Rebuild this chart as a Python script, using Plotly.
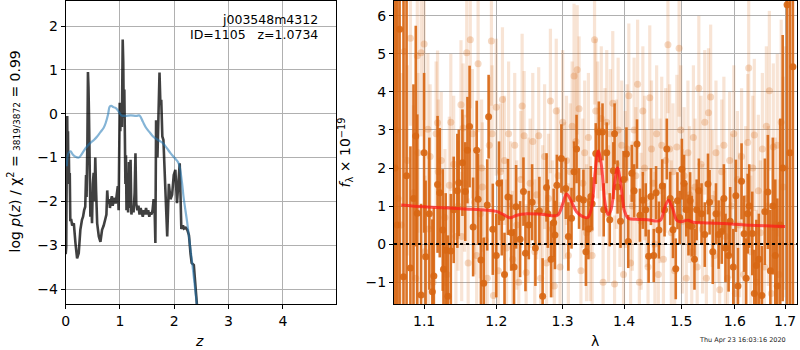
import plotly.graph_objects as go

# ---------------- Left panel: redshift PDF ----------------
z_pdf = [0.000, 0.010, 0.020, 0.028, 0.035, 0.042, 0.050, 0.058, 0.066, 0.075,
         0.085, 0.100, 0.120, 0.150, 0.180, 0.210, 0.240, 0.270, 0.300, 0.320,
         0.340, 0.360, 0.375, 0.385, 0.400, 0.410, 0.420, 0.430, 0.440, 0.455,
         0.470, 0.485, 0.500, 0.515, 0.530, 0.545, 0.560, 0.580, 0.610, 0.640,
         0.670, 0.700, 0.730, 0.750, 0.765, 0.780, 0.800, 0.815, 0.830, 0.850,
         0.865, 0.880, 0.900, 0.920, 0.940, 0.960, 0.975, 0.985, 0.995, 1.005,
         1.020, 1.035, 1.050, 1.060, 1.070, 1.080, 1.090, 1.100, 1.110, 1.120,
         1.135, 1.150, 1.165, 1.180, 1.195, 1.210, 1.230, 1.250, 1.270, 1.285,
         1.300, 1.320, 1.340, 1.360, 1.380, 1.400, 1.420, 1.440, 1.460, 1.480,
         1.500, 1.520, 1.540, 1.560, 1.580, 1.600, 1.620, 1.640, 1.652, 1.665,
         1.690, 1.728, 1.745, 1.760, 1.780, 1.800, 1.820, 1.840, 1.870, 1.900,
         1.930, 1.960, 1.990, 2.020, 2.050, 2.080, 2.100, 2.130, 2.160, 2.180,
         2.210, 2.240, 2.270, 2.300, 2.320, 2.360, 2.380, 2.420, 2.460]
logp_pdf = [-3.20, -3.05, -1.10, -0.05, -1.25, -0.40, -1.45, -0.90, -1.60, -1.35,
            -2.45, -2.40, -2.55, -2.50, -2.95, -3.30, -3.18, -2.65, -2.42, -2.35,
            -2.20, -2.12, -1.40, -1.90, -0.60, 0.95, 0.60, -0.10, -1.40, -2.35,
            -1.90, -2.50, -1.60, -1.35, -2.00, -1.00, -1.75, -2.50, -2.80, -2.92,
            -2.65, -2.55, -2.40, -2.30, -1.75, -2.05, -1.95, -2.15, -2.00, -1.88,
            -2.10, -1.98, -1.92, -2.05, -1.85, -1.65, -2.20, -1.00, 0.25, -0.40,
            0.20, -0.30, 1.69, 1.20, -0.10, 0.55, -0.50, -1.60, -0.95, -2.20,
            -1.50, -2.25, -1.10, -2.15, -1.05, -2.30, -2.10, -2.25, -1.80, -0.90,
            -2.05, -2.20, -2.10, -2.30, -2.15, -2.25, -2.35, -2.20, -2.30, -2.15,
            -2.30, -2.20, -2.35, -2.25, -2.30, -2.20, -1.95, -2.30, -2.95, -0.15,
            -1.00, 0.94, 0.20, 0.32, -0.52, -0.60, -1.20, -2.04, -2.80, -1.60,
            -1.95, -1.85, -1.40, -1.28, -2.04, -1.50, -1.13, -2.63, -2.55, -2.62,
            -2.60, -2.65, -2.77, -3.20, -3.40, -3.45, -3.86, -4.40, -4.90]

z_prior = [0.02, 0.05, 0.09, 0.13, 0.18, 0.24, 0.28, 0.36, 0.45, 0.52,
           0.58, 0.64, 0.70, 0.74, 0.78, 0.81, 0.84, 0.88, 0.93, 0.98,
           1.03, 1.10, 1.20, 1.30, 1.36, 1.42, 1.48, 1.55, 1.62, 1.70,
           1.78, 1.86, 1.93, 2.00, 2.08, 2.14, 2.17, 2.24, 2.27, 2.33,
           2.42, 2.46]
logp_prior = [-1.20, -0.90, -0.86, -0.93, -0.98, -1.00, -0.95, -0.80, -0.67, -0.60,
              -0.52, -0.42, -0.32, -0.20, -0.02, 0.16, 0.18, 0.15, 0.12, 0.04,
              -0.04, -0.05, -0.04, -0.05, -0.04, -0.18, -0.32, -0.43, -0.53, -0.60,
              -0.66, -0.78, -0.90, -1.00, -1.13, -1.55, -1.89, -2.50, -2.80, -3.41,
              -4.40, -4.90]

# ---------------- Right panel: spectrum ----------------
lam_dark = [1.062, 1.065, 1.068, 1.073, 1.077, 1.082, 1.086, 1.089, 1.091, 1.096,
            1.100, 1.102, 1.107, 1.111, 1.113, 1.118, 1.121, 1.125, 1.126, 1.129,
            1.132, 1.136, 1.140, 1.145, 1.147, 1.152, 1.156, 1.159, 1.162, 1.167,
            1.172, 1.174, 1.178, 1.182, 1.187, 1.189, 1.195, 1.200, 1.204, 1.208,
            1.212, 1.217, 1.222, 1.226, 1.229, 1.235, 1.240, 1.243, 1.248, 1.253,
            1.258, 1.264, 1.269, 1.275, 1.277, 1.282, 1.286, 1.288, 1.291, 1.298,
            1.305, 1.309, 1.314, 1.318, 1.322, 1.326, 1.333, 1.337, 1.341, 1.345,
            1.347, 1.353, 1.358, 1.364, 1.366, 1.371, 1.376, 1.382, 1.384, 1.389,
            1.394, 1.399, 1.404, 1.407, 1.413, 1.417, 1.422, 1.427, 1.432, 1.437,
            1.442, 1.446, 1.451, 1.455, 1.460, 1.466, 1.470, 1.474, 1.480, 1.485,
            1.490, 1.493, 1.497, 1.501, 1.505, 1.509, 1.513, 1.516, 1.519, 1.524,
            1.528, 1.532, 1.537, 1.543, 1.549, 1.552, 1.558, 1.564, 1.569, 1.575,
            1.579, 1.582, 1.588, 1.591, 1.597, 1.602, 1.606, 1.613, 1.618, 1.622,
            1.625, 1.628, 1.634, 1.638, 1.642, 1.647, 1.653, 1.659, 1.665, 1.670,
            1.675, 1.680, 1.684, 1.690, 1.695, 1.704, 1.710, 1.716]
flux_dark = [2.0, 0.5, 5.65, -0.86, 1.8, -0.63, 1.2, 2.84, 0.81, -1.34,
             2.40, -0.33, 0.80, -1.25, -0.84, 1.57, 1.35, 0.37, -0.66, -0.16,
             -1.37, -0.18, 0.9, 1.40, 1.61, 2.14, 1.38, 2.47, 3.09, 0.45,
             2.47, 1.18, -0.42, -1.03, 1.03, 3.35, 0.39, -0.3, 1.6, 0.7,
             -0.8, 1.24, 0.3, -0.6, 0.98, 0.13, 1.38, -0.24, 0.50, 1.1,
             -0.10, 0.87, -1.37, 1.49, 0.80, -0.4, 0.56, 0.24, 1.55, 2.25,
             1.46, 0.2, 0.68, 1.9, 2.50, 1.20, 1.16, -0.2, 0.40, 1.25,
             1.06, 2.38, 2.95, 2.95, 0.90, 2.40, 0.64, 1.93, 2.90, 1.5,
             0.60, 1.7, 2.37, 0.07, 1.86, 1.40, 2.63, 0.76, 1.15, 0.9,
             -0.32, 1.25, -0.30, 1.35, 0.37, 1.53, 0.9, 2.50, 1.2, 0.38,
             -0.65, 1.14, 0.7, 1.97, 1.60, 0.9, 0.50, 1.14, 0.47, -0.4,
             0.9, 1.40, 0.80, 0.25, 1.58, 1.10, -0.20, 0.80, 0.25, 0.33,
             1.2, -0.10, -0.30, 0.60, -0.6, 1.27, -1.10, 1.65, 0.27, -0.9,
             0.80, 1.00, 0.28, -1.3, -0.56, -0.40, -1.35, 0.85, 1.37, -0.7,
             1.00, -0.30, -1.10, 0.5, 2.0, 6.29, 2.40, 4.66]
err_dark = [9, 9, 9, 9, 7, 3.2, 3.0, 2.9, 2.6, 2.4,
            2.1, 2.0, 2.0, 1.9, 1.8, 1.8, 1.7, 1.6, 1.6, 1.5,
            1.6, 1.5, 1.4, 1.5, 1.4, 1.4, 1.3, 1.4, 1.6, 1.3,
            1.3, 1.2, 1.3, 1.2, 1.2, 1.1, 1.2, 1.1, 1.1, 1.0,
            1.1, 1.0, 1.0, 1.0, 1.1, 1.0, 0.9, 1.0, 0.9, 1.0,
            1.0, 0.9, 1.0, 0.9, 0.9, 1.0, 0.9, 0.9, 0.8, 0.9,
            0.8, 0.9, 0.8, 0.8, 0.9, 0.8, 0.8, 0.9, 0.8, 0.8,
            0.7, 0.8, 0.8, 0.75, 0.7, 0.8, 0.7, 0.75, 0.8, 0.7,
            0.7, 0.75, 0.7, 0.7, 0.75, 0.7, 0.65, 0.7, 0.75, 0.7,
            0.7, 0.75, 0.7, 0.7, 0.75, 0.7, 0.7, 0.8, 0.7, 0.75,
            0.8, 0.75, 0.7, 0.8, 0.75, 0.7, 0.8, 0.75, 0.8, 0.8,
            0.8, 0.85, 0.8, 0.85, 0.8, 0.85, 0.85, 0.8, 0.9, 0.85,
            0.9, 0.9, 0.95, 0.9, 1.0, 0.95, 1.0, 1.0, 1.0, 1.05,
            1.05, 1.1, 1.1, 1.15, 1.2, 1.2, 1.3, 1.4, 1.5, 1.6,
            1.8, 2.0, 2.3, 2.8, 3.5, 9, 9, 9]

lam_light = [1.063, 1.066, 1.070, 1.074, 1.078, 1.082, 1.086, 1.089, 1.091, 1.092,
             1.096, 1.100, 1.101, 1.105, 1.106, 1.108, 1.112, 1.116, 1.118, 1.119,
             1.123, 1.128, 1.131, 1.134, 1.136, 1.140, 1.143, 1.146, 1.150, 1.151,
             1.153, 1.155, 1.158, 1.160, 1.163, 1.166, 1.169, 1.172, 1.174, 1.177,
             1.179, 1.180, 1.184, 1.187, 1.190, 1.193, 1.194, 1.196, 1.200, 1.203,
             1.206, 1.209, 1.212, 1.215, 1.218, 1.221, 1.224, 1.227, 1.230, 1.233,
             1.236, 1.238, 1.241, 1.244, 1.247, 1.250, 1.254, 1.257, 1.260, 1.263,
             1.266, 1.269, 1.272, 1.275, 1.278, 1.281, 1.284, 1.287, 1.290, 1.293,
             1.296, 1.300, 1.303, 1.306, 1.309, 1.312, 1.315, 1.318, 1.321, 1.323,
             1.326, 1.329, 1.332, 1.335, 1.338, 1.341, 1.344, 1.347, 1.351, 1.353,
             1.356, 1.359, 1.362, 1.365, 1.368, 1.371, 1.374, 1.377, 1.381, 1.384,
             1.387, 1.390, 1.393, 1.396, 1.399, 1.402, 1.405, 1.408, 1.411, 1.414,
             1.417, 1.420, 1.423, 1.426, 1.429, 1.432, 1.435, 1.438, 1.441, 1.444,
             1.447, 1.450, 1.453, 1.456, 1.459, 1.462, 1.465, 1.468, 1.472, 1.476,
             1.479, 1.482, 1.485, 1.488, 1.492, 1.496, 1.499, 1.502, 1.505, 1.509,
             1.512, 1.515, 1.519, 1.522, 1.525, 1.529, 1.532, 1.536, 1.539, 1.543,
             1.546, 1.550, 1.554, 1.557, 1.561, 1.564, 1.568, 1.571, 1.575, 1.579,
             1.582, 1.586, 1.590, 1.594, 1.598, 1.601, 1.605, 1.609, 1.613, 1.617,
             1.621, 1.625, 1.627, 1.631, 1.635, 1.638, 1.642, 1.646, 1.650, 1.654,
             1.658, 1.662, 1.666, 1.668, 1.672, 1.676, 1.680, 1.684, 1.688, 1.692,
             1.696, 1.700]
flux_light = [3.0, 1.2, 0.5, 5.06, 2.2, 5.41, 1.35, -0.9, 4.95, 2.4,
              5.03, 5.26, -0.2, 3.02, 0.4, 2.30, -1.0, 2.90, 3.19, 1.90,
              2.20, 0.70, -0.8, 1.55, 3.20, 2.1, 0.2, 1.0, 3.66, 0.20,
              3.05, 1.6, 5.03, -0.50, 5.37, 2.90, 1.1, -0.30, 4.74, 0.8,
              2.00, 1.50, 0.1, -0.9, 2.6, 5.34, 2.90, -1.35, 3.60, -0.7,
              1.9, 3.80, 2.2, -0.1, 2.9, 1.0, -0.4, 2.6, 0.5, -1.0,
              1.7, 3.63, 2.85, -0.75, 0.9, 1.6, 2.70, -0.2, 1.3, 2.85,
              -0.9, 0.9, 2.3, -0.5, 1.2, 3.76, 0.4, -1.1, 3.50, 1.8,
              -0.6, 3.20, 1.4, 2.2, -0.3, 1.9, 3.1, 4.42, 2.7, 4.58,
              3.56, -0.7, 1.6, 2.4, 0.3, 2.8, 0.4, -0.3, 5.37, 3.50,
              3.00, 1.9, 3.3, -1.0, 2.4, 3.2, 0.8, 2.9, 3.70, -1.05,
              2.1, 3.0, 1.2, 2.6, -0.8, 1.7, 2.5, 3.9, -0.5, 1.0,
              3.0, 1.8, 4.20, -1.0, 0.6, 3.5, 2.0, 1.2, -0.6, 3.85,
              2.5, 1.6, 0.0, 2.9, -0.8, 1.4, 2.6, -0.4, 2.2, 5.24,
              2.5, 0.3, 1.9, -0.7, 2.55, 5.15, 3.00, 0.6, 1.8, -0.9,
              2.4, 1.3, -0.2, 2.8, 1.5, -0.6, 4.10, 2.1, 0.4, 3.2,
              -0.9, 3.45, 3.87, 1.2, -0.3, 2.4, 0.8, -1.2, 1.9, 2.6,
              0.2, -0.9, 2.2, 1.0, 2.9, -1.3, 1.7, 0.5, 2.3, -0.8,
              1.2, 2.67, 4.63, -0.2, 2.0, 2.87, -1.0, 1.4, 0.3, 2.5,
              -0.6, 3.1, 1.0, 4.03, -1.3, 2.55, 0.5, 2.6, -0.8, 3.2,
              1.5, 2.0]
err_light = [5.0, 5.0, 4.0, 2.8, 2.5, 2.3, 2.3, 2.2, 2.2, 2.1,
             2.2, 2.0, 2.0, 2.0, 2.0, 1.9, 1.9, 1.9, 1.9, 1.9,
             1.8, 1.8, 1.8, 1.8, 1.8, 1.8, 1.8, 1.7, 1.7, 1.7,
             1.7, 1.8, 1.7, 1.7, 1.8, 1.7, 1.9, 1.7, 1.8, 1.7,
             1.8, 1.7, 1.9, 1.7, 1.8, 1.7, 1.8, 1.7, 1.8, 1.7,
             1.8, 1.9, 1.7, 1.8, 1.9, 1.7, 1.8, 1.9, 1.7, 1.8,
             1.8, 1.9, 1.7, 1.8, 1.9, 1.7, 1.8, 1.9, 1.7, 1.8,
             1.8, 1.7, 1.9, 1.8, 1.7, 1.9, 1.8, 1.7, 1.9, 1.8,
             1.7, 1.9, 1.8, 1.7, 1.9, 1.8, 1.7, 1.9, 1.8, 1.7,
             1.9, 1.8, 1.7, 1.9, 1.8, 1.7, 1.9, 1.8, 1.7, 1.9,
             1.8, 1.7, 1.9, 1.8, 1.7, 1.9, 1.8, 1.7, 1.9, 1.8,
             1.7, 1.9, 1.8, 1.7, 1.9, 1.8, 1.7, 1.9, 1.8, 1.7,
             1.9, 1.8, 1.7, 1.9, 1.8, 1.7, 1.9, 1.8, 1.7, 1.9,
             1.8, 1.7, 1.9, 1.8, 1.7, 1.9, 1.8, 1.7, 1.9, 1.8,
             1.7, 1.9, 1.8, 1.7, 1.9, 1.8, 1.7, 1.9, 1.8, 1.7,
             1.9, 1.8, 1.7, 1.9, 1.8, 1.7, 1.9, 1.8, 1.7, 1.9,
             1.8, 1.7, 1.9, 1.8, 1.7, 1.9, 1.8, 1.7, 1.9, 1.8,
             1.8, 1.9, 1.8, 1.9, 1.8, 1.9, 1.8, 1.9, 1.8, 1.9,
             1.9, 1.8, 1.9, 2.0, 1.9, 2.0, 1.9, 2.0, 1.9, 2.0,
             2.0, 2.1, 2.1, 2.1, 2.2, 2.2, 2.3, 2.4, 2.5, 2.7,
             2.9, 3.2]

lam_model = [1.070, 1.100, 1.150, 1.200, 1.210, 1.220, 1.230, 1.245, 1.270, 1.292,
             1.300, 1.306, 1.313, 1.322, 1.332, 1.340, 1.346, 1.352, 1.357, 1.362,
             1.368, 1.373, 1.378, 1.384, 1.389, 1.395, 1.401, 1.407, 1.420, 1.440,
             1.462, 1.470, 1.477, 1.484, 1.492, 1.500, 1.512, 1.520, 1.540, 1.560,
             1.580, 1.600, 1.620, 1.640, 1.660, 1.680, 1.700]
flux_model = [1.03, 0.98, 0.93, 0.86, 0.78, 0.69, 0.76, 0.80, 0.78, 0.76,
              1.05, 1.32, 1.15, 0.85, 0.72, 0.70, 0.95, 1.90, 2.45, 2.10,
              1.10, 0.78, 0.90, 1.60, 2.00, 1.50, 0.85, 0.68, 0.65, 0.64,
              0.62, 0.95, 1.15, 0.95, 0.62, 0.59, 0.63, 0.58, 0.56, 0.55,
              0.54, 0.52, 0.50, 0.49, 0.48, 0.47, 0.46]

left_xticks = [0, 1, 2, 3, 4]
left_yticks = [-4, -3, -2, -1, 0, 1, 2]
right_xticks = [1.1, 1.2, 1.3, 1.4, 1.5, 1.6, 1.7]
right_yticks = [-1, 0, 1, 2, 3, 4, 5, 6]

FONT = "DejaVu Sans"
ORANGE = "rgba(216,103,20,0.92)"
ORANGE_LIGHT = "rgba(216,103,20,0.18)"

fig = go.Figure()

fig.add_trace(go.Scatter(x=z_pdf, y=logp_pdf, mode="lines",
                         line=dict(color="rgba(0,0,0,0.75)", width=2.6),
                         xaxis="x", yaxis="y", showlegend=False))
fig.add_trace(go.Scatter(x=z_prior, y=logp_prior, mode="lines",
                         line=dict(color="rgba(31,119,180,0.55)", width=2.2, shape="spline"),
                         xaxis="x", yaxis="y", showlegend=False))

fig.add_trace(go.Scatter(x=lam_light, y=flux_light, mode="markers",
                         marker=dict(color="rgba(216,103,20,0.25)", size=7, line=dict(width=0)),
                         error_y=dict(type="data", array=err_light, color=ORANGE_LIGHT,
                                      thickness=3.2, width=0),
                         xaxis="x2", yaxis="y2", showlegend=False))
fig.add_trace(go.Scatter(x=lam_dark, y=flux_dark, mode="markers",
                         marker=dict(color=ORANGE, size=7, line=dict(width=0)),
                         error_y=dict(type="data", array=err_dark, color=ORANGE,
                                      thickness=2.6, width=0),
                         xaxis="x2", yaxis="y2", showlegend=False))
fig.add_trace(go.Scatter(x=lam_model, y=flux_model, mode="lines",
                         line=dict(color="rgba(255,25,25,0.72)", width=3, shape="spline"),
                         xaxis="x2", yaxis="y2", showlegend=False))

fig.add_shape(type="line", xref="x2 domain", yref="y2", x0=0, x1=1, y0=0, y1=0,
              line=dict(color="black", width=2, dash="dot"), layer="above")

axis_common = dict(showline=True, linecolor="black", linewidth=1, mirror=True,
                   showgrid=True, gridcolor="#b0b0b0", gridwidth=1,
                   ticks="outside", ticklen=4, tickwidth=1, tickcolor="black",
                   zeroline=False,
                   tickfont=dict(family=FONT, size=14, color="black"))

fig.update_layout(
    width=800, height=350,
    margin=dict(l=0, r=0, t=0, b=0),
    paper_bgcolor="white", plot_bgcolor="white",
    font=dict(family=FONT, color="black"),
    xaxis=dict(domain=[0.0775, 0.4165], range=[0, 4.97], tickvals=left_xticks,
               anchor="y", **axis_common),
    yaxis=dict(domain=[0.1314, 0.9971], range=[-4.34, 2.57], tickvals=left_yticks,
               anchor="x", **axis_common),
    xaxis2=dict(domain=[0.49, 0.9963], type="log",
                range=[0.02565, 0.2367], tickvals=right_xticks,
                ticktext=[str(v) for v in right_xticks],
                anchor="y2", **axis_common),
    yaxis2=dict(domain=[0.1314, 0.9971], range=[-1.575, 6.39], tickvals=right_yticks,
                anchor="x2", **axis_common),
)

ann = [
    dict(text="j003548m4312", x=0.3975, y=0.943, xanchor="right", yanchor="middle",
         font=dict(size=12.5, family=FONT)),
    dict(text="ID=1105\u00a0\u00a0\u00a0z=1.0734", x=0.3975, y=0.90, xanchor="right",
         yanchor="middle", font=dict(size=12.5, family=FONT)),
    dict(text="<i>z</i>", x=0.246, y=0.026, xanchor="center", yanchor="middle",
         font=dict(size=14, family=FONT)),
    dict(text="λ", x=0.742, y=0.026, xanchor="center", yanchor="middle",
         font=dict(size=14, family=FONT)),
    dict(text="log <i>p</i>(<i>z</i>) / χ<sup>2</sup> = "
              "<span style='font-size:9px'>3819/3872</span> = 0.99",
         x=0.012, y=0.566, textangle=-90, xanchor="center", yanchor="middle",
         font=dict(size=14, family=FONT)),
    dict(text="<i>f</i><sub>λ</sub> × 10<sup>−19</sup>",
         x=0.429, y=0.566, textangle=-90, xanchor="center", yanchor="middle",
         font=dict(size=14, family=FONT)),
    dict(text="Thu Apr 23 16:03:16 2020", x=0.9275, y=0.028, xanchor="center",
         yanchor="middle", font=dict(size=6.5, family=FONT, color="#222")),
]
for a in ann:
    a.update(xref="paper", yref="paper", showarrow=False)
fig.update_layout(annotations=ann)

fig.write_html("out.html", config={"displayModeBar": False},
               post_script="document.body.style.margin='0';document.body.style.padding='0';")
